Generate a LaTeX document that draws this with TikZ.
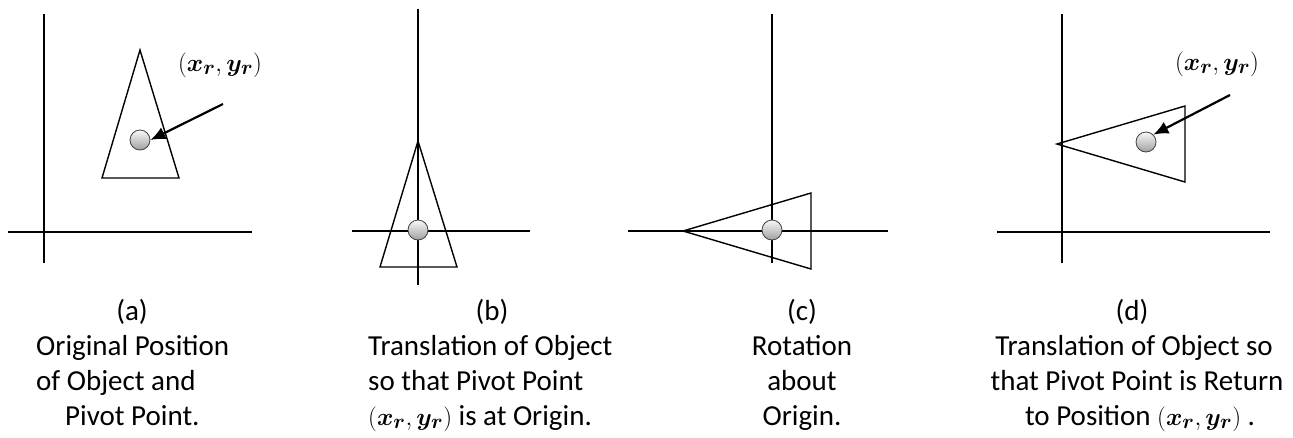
\documentclass[tikz,border=0pt]{standalone}
\usepackage{bm}
\usepackage{fontspec}
\setmainfont{Carlito}
\usetikzlibrary{arrows.meta}
\tikzset{
  axis/.style={line width=1.4pt, black},
  obj/.style={line width=1.4pt, black, line join=miter},
  ball/.style={circle, draw=black!75, line width=0.8pt, minimum size=20pt, inner sep=0pt,
    top color=gray!5, bottom color=gray!75},
  pointer/.style={line width=2.2pt, -{Latex[length=15pt,width=13pt]}},
  captxt/.style={font=\fontsize{29}{35}\selectfont, inner sep=0pt, anchor=base},
  captxtl/.style={captxt, anchor=base west},
  mlabel/.style={font=\fontsize{30}{34}\selectfont, inner sep=0pt}
}
\newcommand{\xyr}{{\fontsize{31}{35}\selectfont$(\bm{x_r},\bm{y_r})$}}
\newcommand{\xyrl}{$(\bm{x_r},\bm{y_r})$}
\begin{document}
\begin{tikzpicture}[x=1pt,y=-1pt]
\useasboundingbox (0,0) rectangle (1293,437);
% ---------- (a)
\draw[axis] (44,14) -- (44,263);
\draw[axis] (8,232) -- (252,232);
\draw[obj] (140,50) -- (102,178) -- (179,178) -- cycle;
\node[ball] (pa) at (140,140) {};
\coordinate (ta) at (223,104);
\draw[pointer] (ta) -- (pa.east);
\node[mlabel] (la) at (220,65) {\xyrl};
% ---------- (b)
\draw[axis] (418,9) -- (418,285);
\draw[axis] (352,231) -- (530,231);
\draw[obj] (418,141) -- (380,267) -- (457,267) -- cycle;
\node[ball] (pb) at (418,230) {};
% ---------- (c)
\draw[axis] (772,14) -- (772,263);
\draw[axis] (628,231) -- (888,231);
\draw[obj] (683,231) -- (811,193) -- (811,269) -- cycle;
\node[ball] (pc) at (772,230) {};
% ---------- (d)
\draw[axis] (1062,14) -- (1062,263);
\draw[axis] (997,232) -- (1270,232);
\draw[obj] (1057,144) -- (1185,106) -- (1185,182) -- cycle;
\node[ball] (pd) at (1146,142) {};
\coordinate (td) at (1230,95);
\draw[pointer] (td) -- (pd.north east);
\node[mlabel] (ld) at (1217,64) {\xyrl};
% ---------- captions
\node[captxt] (ca0) at (132,320) {(a)};
\node[captxtl] (ca1) at (36,355) {Original Position};
\node[captxtl] (ca2) at (36,390) {of Object and};
\node[captxtl] (ca3) at (65,425) {Pivot Point.};
\node[captxt] (cb0) at (492,320) {(b)};
\node[captxtl] (cb1) at (368,355) {Translation of Object};
\node[captxtl] (cb2) at (368,390) {so that Pivot Point};
\node[captxtl] (cb3) at (368,425) {\xyr{} is at Origin.};
\node[captxt] (cc0) at (802,320) {(c)};
\node[captxt] (cc1) at (802,355) {Rotation};
\node[captxt] (cc2) at (802,390) {about};
\node[captxt] (cc3) at (802,425) {Origin.};
\node[captxt] (cd0) at (1132,320) {(d)};
\node[captxt] (cd1) at (1134,355) {Translation of Object so};
\node[captxt] (cd2) at (1137,390) {that Pivot Point is Return};
\node[captxt] (cd3) at (1140,425) {to Position \xyr{} .};
\end{tikzpicture}
\end{document}
